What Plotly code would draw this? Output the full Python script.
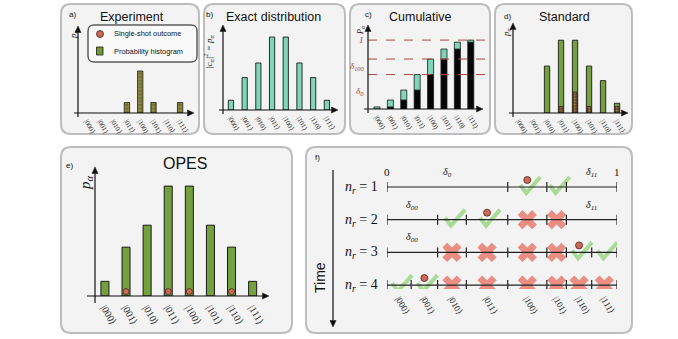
import numpy as np
import plotly.graph_objects as go

W, H = 678, 339

# ---------------- data ----------------
kets = ["|000⟩", "|001⟩", "|010⟩", "|011⟩", "|100⟩", "|101⟩", "|110⟩", "|111⟩"]
p_exact = [0.03, 0.10, 0.145, 0.225, 0.225, 0.145, 0.10, 0.03]
shot_counts = [0, 0, 0, 1, 4, 1, 0, 1]
standard_p = [0, 0, 0.145, 0.225, 0.225, 0.145, 0.10, 0.03]
standard_hist = [0, 0, 0, 0.02, 0.065, 0.02, 0, 0.02]
opes_outcomes = [1, 3, 4, 6]
cum_levels = [1.0, 0.725, 0.5]
cum_labels = ["1", "δ<sub>100</sub>", "δ<sub>0</sub>"]
cum_label_pos = [1.0, 0.6125, 0.25]

# interval boundaries of the unit line (schematic) and per-round state
edges = [0, 0.105, 0.22, 0.345, 0.525, 0.695, 0.78, 0.89, 1.0]
row_ticks = [[0, 4, 5, 6, 8], [0, 2, 3, 4, 5, 6, 8], [0, 2, 3, 4, 5, 6, 7, 8], [0, 1, 2, 3, 4, 5, 6, 7, 8]]
row_checks = [[4, 5], [2, 3], [6, 7], [0, 1]]
row_crosses = [[], [4, 5], [2, 3, 4, 5], [2, 3, 4, 5, 6, 7]]
row_shots = [4, 3, 6, 1]
row_groups = [[("δ<sub>0</sub>", 0, 4), ("δ<sub>11</sub>", 6, 8)],
              [("δ<sub>00</sub>", 0, 2), ("δ<sub>11</sub>", 6, 8)],
              [("δ<sub>00</sub>", 0, 2)],
              []]

# ---------------- styles ----------------
GREEN = "#74a040"
TEAL = "#7fd6b8"
RED = "#cc6a55"
EDGE = "#1a1a1a"
SERIF = "Liberation Serif"
SANS = "Liberation Sans"

fig = go.Figure()
layout = dict(width=W, height=H, margin=dict(l=0, r=0, t=0, b=0),
              paper_bgcolor="white", plot_bgcolor="rgba(0,0,0,0)",
              showlegend=False, barmode="overlay", hovermode=False)


def xn(i):
    return "x" if i == 1 else f"x{i}"


def yn(i):
    return "y" if i == 1 else f"y{i}"


def add_axes(i, x0, x1, xr, ytop, ybot, yr, tickvals, ticktext, tsize, standoff, yrev=False):
    kx = "xaxis" if i == 1 else f"xaxis{i}"
    ky = "yaxis" if i == 1 else f"yaxis{i}"
    layout[kx] = dict(domain=[x0 / W, x1 / W], range=xr, anchor=yn(i),
                      showgrid=False, zeroline=False, showline=False, ticks="",
                      tickvals=tickvals, ticktext=ticktext, tickangle=60,
                      ticklabelstandoff=standoff,
                      tickfont=dict(family=SERIF, size=tsize, color="#222"),
                      fixedrange=True)
    layout[ky] = dict(domain=[1 - ybot / H, 1 - ytop / H],
                      range=yr[::-1] if yrev else yr, anchor=xn(i),
                      visible=False, fixedrange=True)


idx = list(range(8))
add_axes(1, 78, 193, [-0.68, 7.97], 28, 113, [0, 8.1], idx, kets, 7, 2)
add_axes(2, 223, 337, [-0.58, 7.74], 27, 110, [0, 0.256], idx, kets, 7, 2)
add_axes(3, 368, 489, [-0.67, 8.36], 27, 109, [0, 1.19], idx, kets, 7, 2)
add_axes(4, 513, 627, [-0.43, 7.71], 25, 113, [0, 0.272], idx, kets, 7, 2)
add_axes(5, 95, 267, [-0.47, 7.68], 170, 296, [0, 0.258], idx, kets, 10, 3)
centers = [(edges[k] + edges[k + 1]) / 2 for k in range(8)]
add_axes(6, 387, 617, [0, 1], 170, 289, [0.48, 4.12], centers, kets, 9, 2, yrev=True)

# ---- a) experiment histogram ----
a_x = [k for k in idx if shot_counts[k] > 0]
fig.add_trace(go.Bar(x=a_x, y=[shot_counts[k] for k in a_x], width=0.4,
                     marker=dict(color="#5f7028", line=dict(color=EDGE, width=0.8),
                                 pattern=dict(shape=".", fgcolor="#dca262", size=3.5,
                                              solidity=0.6, fillmode="overlay")),
                     xaxis="x", yaxis="y"))

# ---- b) exact distribution ----
fig.add_trace(go.Bar(x=idx, y=p_exact, width=0.38,
                     marker=dict(color=TEAL, line=dict(color=EDGE, width=0.9)),
                     xaxis="x2", yaxis="y2"))

# ---- c) cumulative ----
cum = np.cumsum(p_exact)
prev = cum - np.array(p_exact)
fig.add_trace(go.Bar(x=idx, y=prev, width=0.45,
                     marker=dict(color="#050505", line=dict(color=EDGE, width=0.8)),
                     xaxis="x3", yaxis="y3"))
fig.add_trace(go.Bar(x=idx, y=p_exact, base=prev, width=0.45,
                     marker=dict(color=TEAL, line=dict(color=EDGE, width=0.8)),
                     xaxis="x3", yaxis="y3"))
for lv in cum_levels:
    fig.add_trace(go.Scatter(x=[-0.67, 8.36], y=[lv, lv], mode="lines",
                             line=dict(color="#a84848", width=1, dash="dash"),
                             xaxis="x3", yaxis="y3"))

# ---- d) standard ----
d_x = [k for k in idx if standard_p[k] > 0]
fig.add_trace(go.Bar(x=d_x, y=[standard_p[k] for k in d_x], width=0.38,
                     marker=dict(color=GREEN, line=dict(color=EDGE, width=0.9)),
                     xaxis="x4", yaxis="y4"))
dh_x = [k for k in idx if standard_hist[k] > 0]
fig.add_trace(go.Bar(x=dh_x, y=[standard_hist[k] for k in dh_x], width=0.28,
                     marker=dict(color="#5a4520", line=dict(color=EDGE, width=0.6),
                                 pattern=dict(shape=".", fgcolor="#d89850", size=3,
                                              solidity=0.55, fillmode="overlay")),
                     xaxis="x4", yaxis="y4"))

# ---- e) OPES ----
fig.add_trace(go.Bar(x=idx, y=p_exact, width=0.38,
                     marker=dict(color=GREEN, line=dict(color=EDGE, width=1)),
                     xaxis="x5", yaxis="y5"))
fig.add_trace(go.Scatter(x=opes_outcomes, y=[0.009] * len(opes_outcomes), mode="markers",
                         marker=dict(size=6, color=RED, line=dict(color="#4a2a20", width=0.8)),
                         xaxis="x5", yaxis="y5"))

# ---- f) interval refinement ----
ux, uy = 1 / 230, 1 / 32.67  # data units per pixel
ck_x, ck_y = [], []
cr_x, cr_y = [], []
for r in range(4):
    row = r + 1
    for k in row_checks[r]:
        c = centers[k]
        ck_x += [c - 7 * ux, c - 1 * ux, c + 13 * ux, None]
        ck_y += [row - 2 * uy, row + 6 * uy, row - 10 * uy, None]
    for k in row_crosses[r]:
        cr_x.append(centers[k])
        cr_y.append(row)
fig.add_trace(go.Scatter(x=ck_x, y=ck_y, mode="lines",
                         line=dict(color="rgba(150,212,128,0.8)", width=4),
                         xaxis="x6", yaxis="y6"))
fig.add_trace(go.Scatter(x=cr_x, y=cr_y, mode="markers",
                         marker=dict(symbol="x", size=17, color="rgba(232,122,110,0.85)",
                                     line=dict(width=0)),
                         xaxis="x6", yaxis="y6"))
ln_x, ln_y = [], []
for r in range(4):
    row = r + 1
    ln_x += [0, 1, None]
    ln_y += [row, row, None]
    for b in row_ticks[r]:
        ln_x += [edges[b], edges[b], None]
        ln_y += [row - 5 * uy, row + 5 * uy, None]
fig.add_trace(go.Scatter(x=ln_x, y=ln_y, mode="lines", line=dict(color="#222", width=1.2),
                         xaxis="x6", yaxis="y6"))
fig.add_trace(go.Scatter(x=[centers[k] for k in row_shots],
                         y=[r + 1 - 7 * uy for r in range(4)], mode="markers",
                         marker=dict(size=7, color=RED, line=dict(color="#4a2a20", width=0.8)),
                         xaxis="x6", yaxis="y6"))

# ---------------- decorations ----------------
shapes = []
annotations = []


def P(x, y):
    return f"{x / W},{1 - y / H}"


def rbox(x0, y0, x1, y1, r=10, fill="#f3f3f3", line="#bdbdbd", lw=2):
    path = (f"M{P(x0 + r, y0)} L{P(x1 - r, y0)} Q{P(x1, y0)} {P(x1, y0 + r)} "
            f"L{P(x1, y1 - r)} Q{P(x1, y1)} {P(x1 - r, y1)} L{P(x0 + r, y1)} "
            f"Q{P(x0, y1)} {P(x0, y1 - r)} L{P(x0, y0 + r)} Q{P(x0, y0)} {P(x0 + r, y0)} Z")
    shapes.append(dict(type="path", path=path, xref="paper", yref="paper",
                       fillcolor=fill, line=dict(color=line, width=lw), layer="below"))


for b in [(61, 4, 199, 134), (204, 4, 345, 134), (350, 4, 490, 134), (495, 4, 632, 134),
          (61, 147, 292, 333), (306, 147, 632, 333)]:
    rbox(*b)


def arrow(hx, hy, tx, ty, L=6.5, w=3):
    """Axis line from tail (tx, ty) to head (hx, hy) with a filled triangular head."""
    d = np.hypot(hx - tx, hy - ty)
    ex, ey = (hx - tx) / d, (hy - ty) / d
    bx, by = hx - L * ex, hy - L * ey
    shapes.append(dict(type="path", xref="paper", yref="paper",
                       path=f"M{P(tx, ty)} L{P(bx, by)}",
                       line=dict(color="#111", width=1.2)))
    shapes.append(dict(type="path", xref="paper", yref="paper",
                       path=(f"M{P(hx, hy)} L{P(bx - w * ey, by + w * ex)} "
                             f"L{P(bx + w * ey, by - w * ex)} Z"),
                       fillcolor="#111", line=dict(color="#111", width=0.5)))


arrow(78, 26, 78, 117); arrow(194, 113, 74, 113)
arrow(223, 25, 223, 114); arrow(338, 110, 219, 110)
arrow(368, 25, 368, 113); arrow(483, 109, 364, 109)
arrow(513, 23, 513, 117); arrow(628, 113, 509, 113)
arrow(95, 167, 95, 303); arrow(269, 296, 87, 296)
arrow(333, 327, 333, 170)


def txt(x, y, s, size, family=SANS, xanchor="center", angle=0, color="#111"):
    annotations.append(dict(x=x / W, y=1 - y / H, xref="paper", yref="paper", text=s,
                            showarrow=False, xanchor=xanchor, yanchor="middle",
                            textangle=angle, font=dict(family=family, size=size, color=color)))


# titles and panel letters
txt(132, 17, "Experiment", 12.5)
txt(273, 17, "Exact distribution", 12.5)
txt(420, 17, "Cumulative", 12.5)
txt(564, 17, "Standard", 12.5)
txt(185, 163, "OPES", 16)
for s, x, y in [("a)", 72, 15), ("b)", 209, 15), ("c)", 368, 14), ("d)", 507, 16),
                ("e)", 69, 165), ("f)", 317, 157)]:
    txt(x, y, s, 8)

# axis titles
txt(74, 34, "<i>p<sub>α</sub></i>", 9, SERIF, angle=-90)
txt(209, 52, "<i>|c<sub>α</sub>|<sup>2</sup> = p<sub>α</sub></i>", 9, SERIF, angle=-90)
txt(361, 30, "<i>P<sub>α</sub></i>", 8, SERIF, angle=-90)
txt(506, 32, "<i>p<sub>α</sub></i>", 9, SERIF, angle=-90)
txt(86, 183, "<i>p<sub>α</sub></i>", 15, SERIF, angle=-90)
txt(320, 278, "Time", 14, angle=-90)

# cumulative thresholds
for s, v in zip(cum_labels, cum_label_pos):
    annotations.append(dict(x=366 / W, y=v, xref="paper", yref="y3", text=f"<i>{s}</i>",
                            showarrow=False, xanchor="right", yanchor="middle",
                            font=dict(family=SERIF, size=9, color="#9a3a3a")))

# legend of panel a
rbox(88, 25, 197, 62, r=6, fill="#f9f9f9", line="#111", lw=1)
shapes.append(dict(type="circle", xref="paper", yref="paper",
                   x0=96.5 / W, x1=103.5 / W, y0=1 - 37.5 / H, y1=1 - 30.5 / H,
                   fillcolor=RED, line=dict(color="#4a2a20", width=0.8)))
shapes.append(dict(type="rect", xref="paper", yref="paper",
                   x0=96.5 / W, x1=103 / W, y0=1 - 55 / H, y1=1 - 47 / H,
                   fillcolor="#6f9a36", line=dict(color=EDGE, width=0.8)))
txt(112, 34, "Single-shot outcome", 7.4, xanchor="left")
txt(112, 51, "Probability histogram", 7.4, xanchor="left")

# panel f labels
row_px = [187, 220, 252, 285]
for r, ypx in enumerate(row_px):
    txt(361, ypx, f"<i>n<sub>r</sub></i> = {r + 1}", 14, SERIF)
    for s, a, b in row_groups[r]:
        annotations.append(dict(x=(edges[a] + edges[b]) / 2, y=r + 1 - 6 * uy,
                                xref="x6", yref="y6", text=f"<i>{s}</i>", showarrow=False,
                                yanchor="bottom", font=dict(family=SERIF, size=10, color="#111")))
for v in [0, 1]:
    annotations.append(dict(x=v, y=1 - 15 * uy, xref="x6", yref="y6", text=str(v),
                            showarrow=False, yanchor="middle",
                            font=dict(family=SERIF, size=11, color="#111")))

layout["shapes"] = shapes
layout["annotations"] = annotations
fig.update_layout(**layout)
fig.write_html("out.html", config={"displayModeBar": False})
